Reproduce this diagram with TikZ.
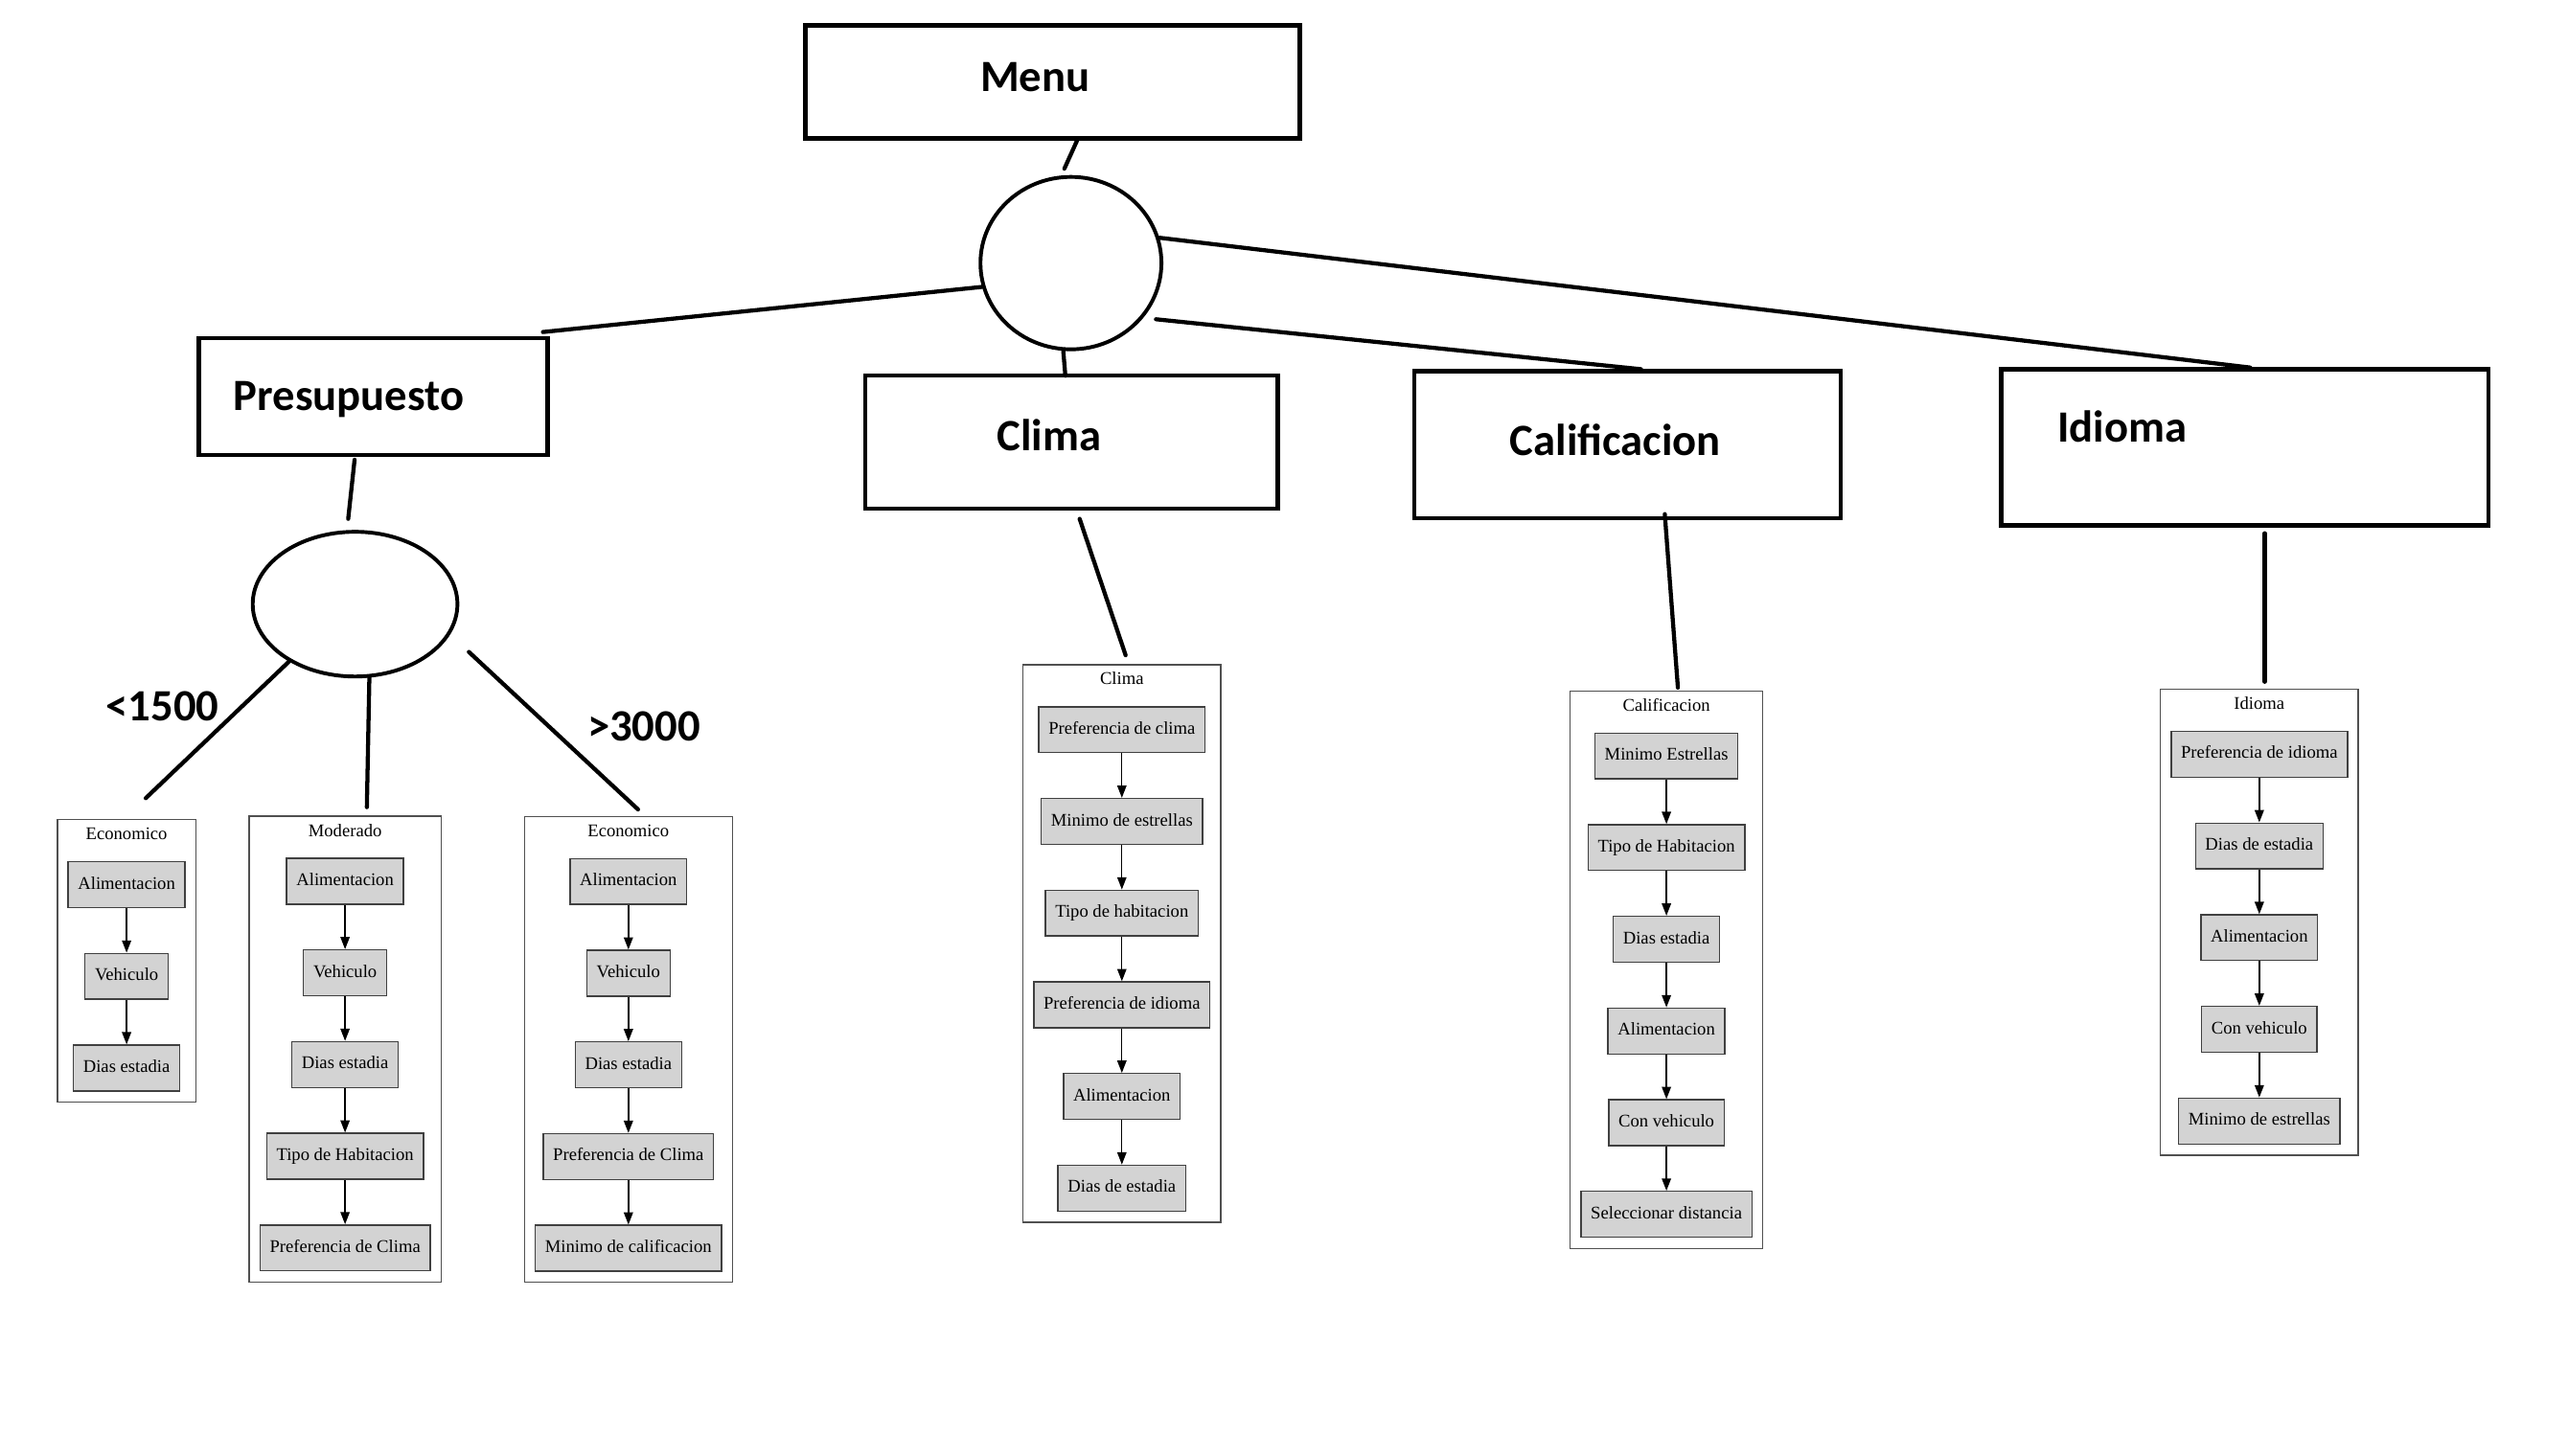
\documentclass[tikz,border=0pt]{standalone}
\usepackage{fontspec}
\setmainfont{Liberation Serif}
\newfontfamily\headfont{Carlito}
\usetikzlibrary{arrows.meta,shapes.geometric,fit}

\definecolor{gvfill}{RGB}{211,211,211}
\definecolor{gvline}{RGB}{64,64,64}
\definecolor{gvframe}{RGB}{80,80,80}

% One boxed group: name prefix, centre x, top y, title, list of steps
\newcommand\gvcluster[5]{%
  \gdef\gvfit{}%
  \foreach \lbl [count=\k] in {#5}{%
    \node[gvnode] (#1\k) at ({#2},{#3+39.7+56*(\k-1)}) {\lbl};
    \ifnum\k>1
      \pgfmathtruncatemacro\kp{\k-1}
      \draw[gvarrow] (#1\kp) -- (#1\k);
    \fi
    \xdef\gvfit{\gvfit(#1\k)}%
    \xdef\gvlast{\k}%
  }%
  \coordinate (#1top) at ({#2},{#3});
  \coordinate (#1bot) at ({#2},{#3+25.7+56*(\gvlast-1)+28+6.8});
  \edef\gvtmp{\noexpand\node[gvcluster, fit=(#1top)(#1bot)\gvfit] (#1box) {};}\gvtmp
  \node[gvtitle] (#1title) at ({#2},{#3+12.3}) {#4};
}

\begin{document}
\begin{tikzpicture}[x=1pt,y=-1pt,
  box/.style={draw, line width=2.7pt, inner sep=0pt},
  head/.style={inner sep=0pt, font=\headfont\bfseries\fontsize{27.3}{30}\selectfont},
  hand/.style={line width=2.5pt, line cap=round},
  oval/.style={draw, ellipse, line width=2.3pt, inner sep=0pt},
  gvnode/.style={draw=gvline, fill=gvfill, line width=0.8pt, rectangle,
    minimum height=28pt, inner xsep=6pt, inner ysep=0pt,
    text height=7.6pt, text depth=2.3pt,
    font=\fontsize{10.9}{12}\selectfont},
  gvarrow/.style={draw=black, line width=0.8pt, -{Triangle[length=7.5pt,width=5.6pt]}},
  gvcluster/.style={draw=gvframe, line width=0.8pt, inner xsep=6.2pt, inner ysep=0pt},
  gvtitle/.style={anchor=base, inner sep=0pt, font=\fontsize{10.9}{12}\selectfont},
]
\fill[white] (0,0) rectangle (1568,889);
\useasboundingbox (0,0) rectangle (1568,889);

% main boxes
\node[box, minimum width=301.7pt, minimum height=69.1pt] (menu) at (642.7,49.9) {};
\node[head, anchor=base] (menut) at (632,55.6) {Menu};
\node[oval, minimum width=110.5pt, minimum height=105.3pt] (hub) at (653.9,160.7) {};

\node[box, minimum width=213.1pt, minimum height=71.4pt] (pres) at (227.9,242.25) {};
\node[head, anchor=base west] (prest) at (142.4,250.6) {Presupuesto};
\node[oval, minimum width=125pt, minimum height=88.4pt] (split) at (216.8,369) {};

\node[box, minimum width=251.9pt, minimum height=81.3pt] (clima) at (654.3,270) {};
\node[head, anchor=base] (climat) at (640.6,275) {Clima};

\node[box, minimum width=260.4pt, minimum height=89.9pt] (calif) at (993.75,271.6) {};
\node[head, anchor=base] (calift) at (986.3,278) {Calificacion};

\node[box, minimum width=297.7pt, minimum height=95.2pt] (idioma) at (1370.6,273.3) {};
\node[head, anchor=base west] (idiomat) at (1256,270) {Idioma};

% budget ranges
\node[head, anchor=base west] (low) at (64.5,440) {<1500};
\node[head, anchor=base west] (high) at (358.5,452.5) {>3000};

% step groups
\gvcluster{ea}{77.3}{500.6}{Economico}{Alimentacion,Vehiculo,Dias estadia}
\gvcluster{mo}{210.7}{498.5}{Moderado}{Alimentacion,Vehiculo,Dias estadia,Tipo de Habitacion,Preferencia de Clima}
\gvcluster{eb}{383.7}{498.7}{Economico}{Alimentacion,Vehiculo,Dias estadia,Preferencia de Clima,Minimo de calificacion}
\gvcluster{cl}{685}{406}{Clima}{Preferencia de clima,Minimo de estrellas,Tipo de habitacion,Preferencia de idioma,Alimentacion,Dias de estadia}
\gvcluster{ca}{1017.5}{422}{Calificacion}{Minimo Estrellas,Tipo de Habitacion,Dias estadia,Alimentacion,Con vehiculo,Seleccionar distancia}
\gvcluster{id}{1379.5}{421}{Idioma}{Preferencia de idioma,Dias de estadia,Alimentacion,Con vehiculo,Minimo de estrellas}

% hand-drawn connectors
\coordinate (menuout) at (657.8,85.5);
\coordinate (hubin) at (649.9,103);
\draw[hand] (menuout) -- (hubin);

\coordinate (climain) at (650.5,229.5);
\draw[hand] (hub.265) -- (climain);

\coordinate (presin) at (331.5,202.8);
\draw[hand] (hub.195) -- (presin);

\coordinate (idiomain) at (1374,224.5);
\draw[hand] (hub.16) -- (idiomain);

\coordinate (hubout) at (705.8,195);
\coordinate (califin) at (1002,225.5);
\draw[hand] (hubout) -- (califin);

\coordinate (presout) at (216.5,280.8);
\coordinate (splitin) at (212.6,316.9);
\draw[hand] (presout) -- (splitin);

\coordinate (toea) at (89,487.5);
\draw[hand] (split.221) -- (toea);
\coordinate (tomo) at (224,493);
\draw[hand] (split.281) -- (tomo);
\coordinate (splitout) at (286.3,398.2);
\coordinate (toeb) at (389.6,494.4);
\draw[hand] (splitout) -- (toeb);

\coordinate (climaout) at (659.2,316.9);
\coordinate (tocl) at (687.3,400.2);
\draw[hand] (climaout) -- (tocl);

\coordinate (califout) at (1016.5,314);
\coordinate (toca) at (1024.5,420);
\draw[hand] (califout) -- (toca);

\coordinate (idiomaout) at (1382.8,325.7);
\coordinate (toid) at (1382.8,416.4);
\draw[hand] (idiomaout) -- (toid);
\end{tikzpicture}
\end{document}
